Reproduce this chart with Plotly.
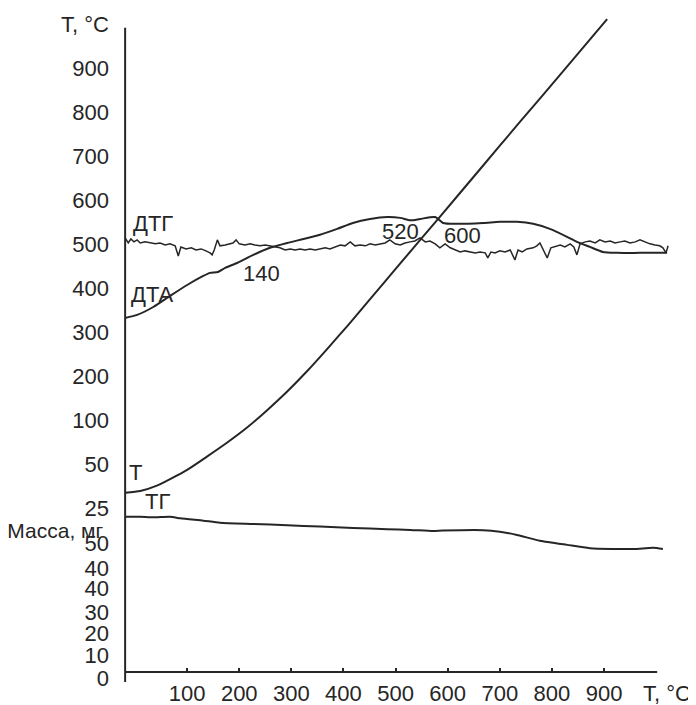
import numpy as np
import plotly.graph_objects as go

# ---------------- axis scales ----------------
X_TICKS = [100, 200, 300, 400, 500, 600, 700, 800, 900]

# temperature scale on the y axis (evenly spaced divisions)
T_SCALE_VALUES = [25, 50, 100, 200, 300, 400, 500, 600, 700, 800, 900]
T_SCALE_POS = [8, 10, 12, 14, 16, 18, 20, 22, 24, 26, 28]

# mass scale on the y axis
MASS_TICK_TEXT = ["0", "10", "20", "30", "40", "40", "50"]
MASS_TICK_POS = [0.30, 1.35, 2.35, 3.30, 4.39, 5.30, 6.42]

# ---------------- curves ----------------
# T curve (values in °C on the y temperature scale)
t_x = [-19, 10, 42, 100, 138, 177, 215, 253, 292, 330, 369, 409, 447, 509, 585, 662, 739, 816, 906]
t_c = [34, 35, 38, 47, 59, 75, 92, 123, 166, 212, 263, 317, 370, 457, 563, 671, 779, 886, 1012]

# DTA curve (axis divisions)
dta_x = [-19, 4, 35, 67, 100, 131, 144, 159, 173, 196, 227, 259, 292, 323, 355, 388, 418, 451,
         484, 509, 528, 547, 576, 591, 618, 668, 700, 733, 764, 796, 829, 848, 873, 898, 925, 969, 1021]
dta_y = [16.66, 16.80, 17.16, 17.66, 18.16, 18.57, 18.71, 18.75, 18.94, 19.16, 19.53, 19.85, 20.07,
         20.25, 20.44, 20.71, 20.98, 21.16, 21.25, 21.21, 21.10, 21.16, 21.25, 20.98, 20.94, 20.98,
         21.03, 21.03, 20.94, 20.71, 20.35, 20.12, 19.89, 19.66, 19.62, 19.62, 19.62]

# TG curve (axis divisions)
tg_x = [-19, 10, 35, 67, 87, 131, 163, 227, 292, 355, 418, 484, 528, 572, 591, 668, 700, 733,
        777, 829, 873, 956, 994, 1013]
tg_y = [7.63, 7.63, 7.60, 7.63, 7.56, 7.45, 7.36, 7.30, 7.24, 7.18, 7.12, 7.06, 7.03, 6.98, 7.00,
        7.02, 6.95, 6.80, 6.54, 6.35, 6.20, 6.16, 6.22, 6.16]

# DTG curve (noisy trace, axis divisions)
dtg_x = [-19, -13, -8, -2, 4, 10, 19, 29, 39, 48,
         58, 67, 77, 83, 88, 98, 108, 117, 127, 136,
         144, 148, 152, 158, 163, 173, 182, 188, 194, 200,
         211, 221, 230, 240, 250, 259, 269, 278, 288, 298,
         307, 317, 326, 336, 346, 355, 365, 374, 384, 394,
         403, 413, 422, 432, 442, 451, 461, 470, 480, 489,
         499, 509, 518, 528, 537, 547, 557, 566, 576, 585,
         595, 605, 614, 624, 633, 643, 653, 662, 672, 677,
         683, 691, 700, 710, 720, 729, 735, 743, 752, 764,
         771, 777, 783, 791, 798, 808, 816, 825, 835, 842,
         848, 854, 864, 873, 883, 892, 902, 912, 921, 931,
         940, 950, 960, 969, 979, 988, 998, 1007, 1013, 1019,
         1023]
dtg_y = [20.30, 20.07, 20.25, 20.12, 20.21, 20.07, 20.12, 20.07, 20.03, 20.07,
         19.98, 20.03, 19.94, 19.48, 19.89, 19.80, 19.85, 19.75, 19.80, 19.71,
         19.62, 19.53, 19.75, 20.21, 19.94, 19.98, 20.03, 20.07, 20.21, 20.03,
         19.98, 20.03, 19.98, 19.94, 19.98, 19.94, 19.89, 19.85, 19.75, 19.80,
         19.75, 19.80, 19.75, 19.80, 19.75, 19.80, 19.85, 19.80, 19.89, 19.98,
         19.94, 20.12, 19.94, 19.98, 19.94, 20.03, 19.98, 20.03, 20.07, 20.21,
         20.03, 19.98, 20.07, 20.12, 20.16, 20.30, 20.12, 20.16, 20.03, 19.85,
         20.03, 19.85, 19.75, 19.66, 19.71, 19.66, 19.62, 19.66, 19.62, 19.39,
         19.66, 19.62, 19.71, 19.66, 19.75, 19.30, 19.75, 19.66, 19.80, 19.85,
         19.94, 20.07, 19.75, 19.39, 19.85, 19.94, 19.98, 19.89, 20.03, 19.89,
         19.53, 20.03, 20.12, 20.16, 20.07, 20.21, 20.12, 20.16, 20.07, 20.12,
         20.16, 20.07, 20.12, 20.21, 20.12, 20.03, 19.98, 19.94, 19.85, 19.62,
         19.94]

# curve labels
LABELS = ["ДТГ", "ДТА", "140", "520", "600", "T", "ТГ"]
LABEL_X = [35, 33, 242, 509, 628, 1, 44]
LABEL_Y = [20.94, 17.71, 18.66, 20.57, 20.39, 9.62, 8.30]

# ---------------- figure ----------------
INK = "#262626"
FONT = "Liberation Sans, Arial, sans-serif"

t_div = np.interp(t_c, T_SCALE_VALUES + [1000, 1100], T_SCALE_POS + [30, 32])

fig = go.Figure()
line_style = dict(color=INK, width=2)
fig.add_trace(go.Scatter(x=t_x, y=t_div, mode="lines", line=dict(shape="spline", smoothing=0.6, **line_style)))
fig.add_trace(go.Scatter(x=dta_x, y=dta_y, mode="lines", line=dict(shape="spline", smoothing=0.6, **line_style)))
fig.add_trace(go.Scatter(x=tg_x, y=tg_y, mode="lines", line=dict(shape="spline", smoothing=0.6, **line_style)))
fig.add_trace(go.Scatter(x=dtg_x, y=dtg_y, mode="lines", line=dict(color=INK, width=1.5)))

for txt, lx, ly in zip(LABELS, LABEL_X, LABEL_Y):
    fig.add_annotation(x=lx, y=ly, text=txt, showarrow=False, xanchor="center", yanchor="middle",
                       font=dict(family=FONT, size=22, color=INK))

# x-axis title at the end of the axis (below the plotting area)
fig.add_annotation(x=1020, xref="x", y=-0.017, yref="paper", text="T, °C", showarrow=False,
                   xanchor="center", yanchor="middle",
                   font=dict(family=FONT, size=22, color=INK))

# axis lines
fig.add_shape(type="line", xref="x", yref="y", x0=-19, x1=-19, y0=0.12, y1=29.85,
              line=dict(color=INK, width=2))
fig.add_shape(type="line", xref="x", yref="y", x0=-19, x1=1002, y0=0.573, y1=0.573,
              line=dict(color=INK, width=2))

mass_title = '<span style="font-size:21px">Масса, мг\u00a0</span>'
y_tickvals = MASS_TICK_POS + [7.03] + T_SCALE_POS + [30]
y_ticktext = MASS_TICK_TEXT + [mass_title] + [str(v) for v in T_SCALE_VALUES] + ["T, °C"]

# the page body adds an 8 px offset, so the figure is drawn 8 px smaller
fig.update_layout(
    width=688, height=697,
    margin=dict(l=114, r=6, t=7, b=23),
    paper_bgcolor="white", plot_bgcolor="white",
    showlegend=False,
    xaxis=dict(range=[-25, 1065], showgrid=False, zeroline=False, showline=False,
               tickvals=X_TICKS, ticktext=[str(v) for v in X_TICKS],
               ticks="inside", ticklen=4, tickwidth=2, tickcolor=INK,
               anchor="free", position=0.015, ticklabelstandoff=6, automargin=False,
               tickfont=dict(family=FONT, size=22, color=INK)),
    yaxis=dict(range=[0.118, 30.43], showgrid=False, zeroline=False, showline=False,
               tickvals=y_tickvals, ticktext=y_ticktext, ticks="",
               ticklabelstandoff=12, automargin=False,
               tickfont=dict(family=FONT, size=22, color=INK)),
)

fig.write_html("out.html")
